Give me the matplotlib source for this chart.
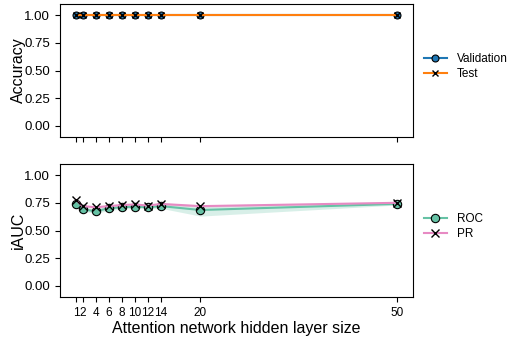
import matplotlib
matplotlib.use("Agg")
import matplotlib.pyplot as plt
import numpy as np

plt.rcParams['font.family'] = ['Liberation Sans', 'DejaVu Sans']

# Attention network hidden layer sizes
sizes = [1, 2, 4, 6, 8, 10, 12, 14, 20, 50]

# Accuracy
acc_val = [1.0, 1.0, 1.0, 1.0, 1.0, 1.0, 1.0, 1.0, 1.0, 1.0]
acc_test = [1.0, 1.0, 1.0, 1.0, 1.0, 1.0, 1.0, 1.0, 1.0, 1.0]

# iAUC (mean with spread across runs)
roc_mean = [0.735, 0.69, 0.675, 0.70, 0.71, 0.715, 0.71, 0.72, 0.685, 0.74]
roc_low = [0.72, 0.675, 0.655, 0.68, 0.695, 0.70, 0.695, 0.70, 0.63, 0.73]
roc_high = [0.75, 0.71, 0.695, 0.72, 0.725, 0.73, 0.725, 0.74, 0.72, 0.75]
pr_mean = [0.775, 0.72, 0.71, 0.72, 0.73, 0.735, 0.725, 0.74, 0.72, 0.75]
pr_low = [0.765, 0.71, 0.70, 0.71, 0.72, 0.725, 0.715, 0.73, 0.71, 0.745]
pr_high = [0.785, 0.73, 0.72, 0.73, 0.74, 0.745, 0.735, 0.75, 0.73, 0.755]

xticks = [1, 2, 4, 6, 8, 10, 12, 14, 20, 50]
yticks = [0.0, 0.25, 0.5, 0.75, 1.0]

c_val = '#1f77b4'
c_test = '#ff7f0e'
c_roc = '#66c2a5'
c_pr = '#e78ac3'

fig = plt.figure(figsize=(5.08, 3.41), dpi=100)
ax1 = fig.add_axes([0.118, 0.598, 0.695, 0.390])
ax2 = fig.add_axes([0.118, 0.129, 0.695, 0.390], sharex=ax1)

ax1.plot(sizes, acc_val, color=c_val, lw=1.5, marker='o', ms=5,
         mfc=c_val, mec='black', mew=0.8, label='Validation')
ax1.plot(sizes, acc_test, color=c_test, lw=1.5, marker='x', ms=5,
         mec='black', mew=1.0, label='Test')

ax2.fill_between(sizes, roc_low, roc_high, color=c_roc, alpha=0.25, lw=0)
ax2.fill_between(sizes, pr_low, pr_high, color=c_pr, alpha=0.25, lw=0)
ax2.plot(sizes, roc_mean, color=c_roc, lw=1.5, marker='o', ms=6,
         mfc=c_roc, mec='black', mew=0.8, label='ROC')
ax2.plot(sizes, pr_mean, color=c_pr, lw=1.5, marker='x', ms=6,
         mec='black', mew=1.0, label='PR')

for ax, lab in [(ax1, 'Accuracy'), (ax2, 'iAUC')]:
    ax.set_ylim(-0.1, 1.1)
    ax.set_yticks(yticks)
    ax.set_yticklabels([f'{v:.2f}' for v in yticks])
    ax.set_ylabel(lab, fontsize=11.5, labelpad=-1)
    ax.tick_params(direction='out', length=3.5, width=0.8, labelsize=9.5)
    for s in ax.spines.values():
        s.set_linewidth(0.8)
    ax.legend(loc='center left', bbox_to_anchor=(1.0, 0.53), frameon=False,
              fontsize=8.5, handlelength=2.0, labelspacing=0.3)

ax2.set_xticks(xticks)
ax2.set_xticklabels([str(v) for v in xticks])
ax2.tick_params(axis='x', labelsize=8.5)
ax2.set_xlabel('Attention network hidden layer size', fontsize=11.5, labelpad=1.5)
plt.setp(ax1.get_xticklabels(), visible=False)

fig.savefig('out.png', dpi=100)
